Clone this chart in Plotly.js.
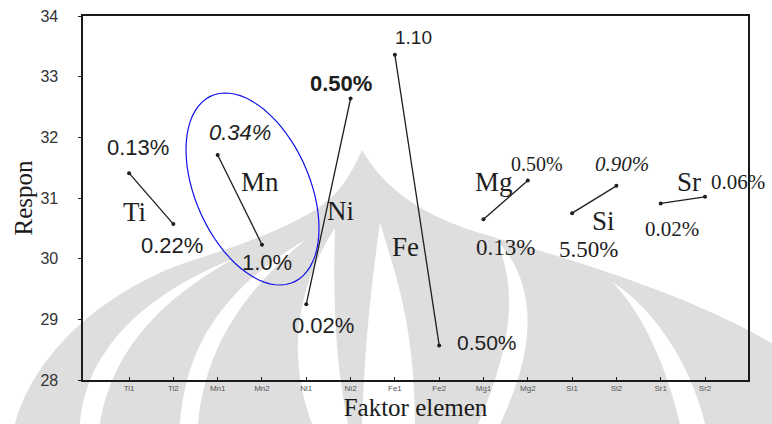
<!DOCTYPE html>
<html>
<head>
<meta charset="utf-8">
<script src="https://cdn.plot.ly/plotly-3.0.1.min.js"></script>
<style>
  html, body { margin: 0; padding: 0; background: #ffffff; }
  #chart { width: 772px; height: 424px; }
</style>
</head>
<body>
<div id="chart"></div>
<script>
// ---------- data ----------
const categories = ['Ti1','Ti2','Mn1','Mn2','Ni1','Ni2','Fe1','Fe2','Mg1','Mg2','Si1','Si2','Sr1','Sr2'];
const elements   = ['Ti','Mn','Ni','Fe','Mg','Si','Sr'];
const respon     = [31.41, 30.57, 31.71, 30.23, 29.25, 32.64, 33.36, 28.57, 30.65, 31.29, 30.75, 31.20, 30.91, 31.02];
const levelLabels = ['0.13%','0.22%','0.34%','1.0%','0.02%','0.50%','1.10','0.50%','0.13%','0.50%','5.50%','0.90%','0.02%','0.06%'];
const yTicks = [28, 29, 30, 31, 32, 33, 34];

// ---------- geometry helpers (pixel -> paper) ----------
const PL = 83, PR = 748, PT = 16, PB = 380;
const px = X => (X - PL) / (PR - PL);
const py = Y => (PB - Y) / (PB - PT);
function pathFrom(cmds) {
  return cmds.map(c => {
    const op = c[0]; const a = c.slice(1); const out = [];
    for (let i = 0; i < a.length; i += 2) out.push(px(a[i]).toFixed(4) + ',' + py(a[i+1]).toFixed(4));
    return op + (out.length ? ' ' + out.join(' ') : '');
  }).join(' ');
}

// ---------- watermark (background logo) ----------
const GREY = '#dedede';
const wmGrey = [
  [['M',15,424],['C',35,350,110,285,200,258],['C',250,242,285,228,315,210],['C',340,195,352,172,362,150],
   ['C',385,190,425,218,490,236],['C',580,262,690,295,775,345],['L',775,424],['Z']]
];
const wmWhite = [
  [['M',80,424],['C',85,360,130,300,235,258],['C',150,305,110,360,100,424],['Z']],
  [['M',180,424],['C',185,350,220,290,305,240],['C',240,295,205,350,198,424],['Z']],
  [['M',312,424],['C',292,370,288,300,335,228],['C',333,300,335,360,348,424],['Z']],
  [['M',362,424],['C',365,330,375,260,380,222],['C',392,265,415,320,415,424],['Z']],
  [['M',478,424],['C',510,350,520,290,495,238],['C',535,280,540,340,500,424],['Z']],
  [['M',680,424],['C',665,360,640,310,612,282],['C',650,305,690,360,705,424],['Z']]
];
const shapes = [];
wmGrey.forEach(p => shapes.push({type:'path', xref:'paper', yref:'paper', layer:'below',
  path: pathFrom(p), fillcolor: GREY, line:{width:0}}));
wmWhite.forEach(p => shapes.push({type:'path', xref:'paper', yref:'paper', layer:'below',
  path: pathFrom(p), fillcolor: '#ffffff', line:{width:0}}));

// blue ellipse around Mn
(function(){
  const cx = 252.5, cy = 189, n = 72; const pts = [];
  for (let i = 0; i <= n; i++) {
    const t = 2*Math.PI*i/n;
    pts.push([px(cx + 66.5*Math.cos(t)), py(cy + 39.3*Math.cos(t) + 87.6*Math.sin(t))]);
  }
  shapes.push({type:'path', xref:'paper', yref:'paper', layer:'above',
    path: 'M ' + pts.map(p => p[0].toFixed(4)+','+p[1].toFixed(4)).join(' L ') + ' Z',
    line:{color:'#1010e8', width:1.2}, fillcolor:'rgba(0,0,0,0)'});
})();

// ---------- traces: one line per element ----------
const traces = elements.map((el, k) => ({
  type: 'scatter', mode: 'lines+markers', name: el,
  x: categories.slice(2*k, 2*k+2), y: respon.slice(2*k, 2*k+2),
  line: {color:'#1e1e1e', width:1.3}, marker: {color:'#1e1e1e', size:4},
  hoverinfo: 'x+y', showlegend: false, cliponaxis: false
}));

// ---------- text labels ----------
const SANS = 'Liberation Sans, Arial, sans-serif';
const SERIF = 'Liberation Serif, Times New Roman, serif';
const levelStyle = [
  {x:138,y:147,f:SANS,s:22},{x:172,y:245,f:SANS,s:22},{x:240,y:132,f:SANS,s:22,i:1},{x:267,y:262,f:SANS,s:22},
  {x:323,y:325,f:SANS,s:22},{x:341,y:83,f:SANS,s:22,b:1},{x:413,y:37,f:SANS,s:19},{x:487,y:342,f:SANS,s:21},
  {x:505,y:247,f:SERIF,s:23},{x:537,y:164,f:SERIF,s:20},{x:588,y:250,f:SERIF,s:23},{x:622,y:164,f:SERIF,s:21,i:1},
  {x:672,y:229,f:SERIF,s:21},{x:738,y:182,f:SERIF,s:21}
];
const elemPos = [[134,212],[260,182],[340,211],[405,247],[494,182],[603,221],[689,182]];
const annotations = [];
levelLabels.forEach((t, i) => {
  const st = levelStyle[i];
  let txt = t; if (st.i) txt = '<i>' + txt + '</i>'; if (st.b) txt = '<b>' + txt + '</b>';
  annotations.push({xref:'paper', yref:'paper', x:px(st.x), y:py(st.y), text:txt, showarrow:false,
    xanchor:'center', yanchor:'middle', font:{family:st.f, size:st.s, color:'#1e1e1e'}});
});
elements.forEach((el, k) => {
  annotations.push({xref:'paper', yref:'paper', x:px(elemPos[k][0]), y:py(elemPos[k][1]), text:el, showarrow:false,
    xanchor:'center', yanchor:'middle', font:{family:SERIF, size:27, color:'#1e1e1e'}});
});

const layout = {
  width: 772, height: 424,
  margin: {l:PL, r:772-PR, t:PT, b:424-PB, pad:0},
  paper_bgcolor: 'rgba(0,0,0,0)', plot_bgcolor: 'rgba(0,0,0,0)',
  showlegend: false,
  xaxis: {
    type:'category', categoryorder:'array', categoryarray: categories,
    range:[-1.04, 13.97], showgrid:false, zeroline:false,
    showline:true, linecolor:'#1a1a1a', linewidth:1.6, mirror:true,
    ticks:'inside', ticklen:3, tickcolor:'#1a1a1a',
    tickfont:{family:SANS, size:8, color:'#555555'},
    title:{text:'Faktor elemen', font:{family:SERIF, size:25, color:'#1a1a1a'}, standoff:6}
  },
  yaxis: {
    range:[28, 34], tickvals: yTicks, ticktext: yTicks.map(String),
    showgrid:false, zeroline:false,
    showline:true, linecolor:'#1a1a1a', linewidth:1.6, mirror:true,
    ticks:'outside', ticklen:3, tickcolor:'#1a1a1a',
    ticklabelstandoff: 17,
    tickfont:{family:SANS, size:16, color:'#333333'},
    title:{text:'Respon', font:{family:SERIF, size:25, color:'#1a1a1a'}, standoff:0}
  },
  shapes: shapes,
  annotations: annotations
};

Plotly.newPlot('chart', traces, layout, {displayModeBar:false, staticPlot:true});
</script>
</body>
</html>
